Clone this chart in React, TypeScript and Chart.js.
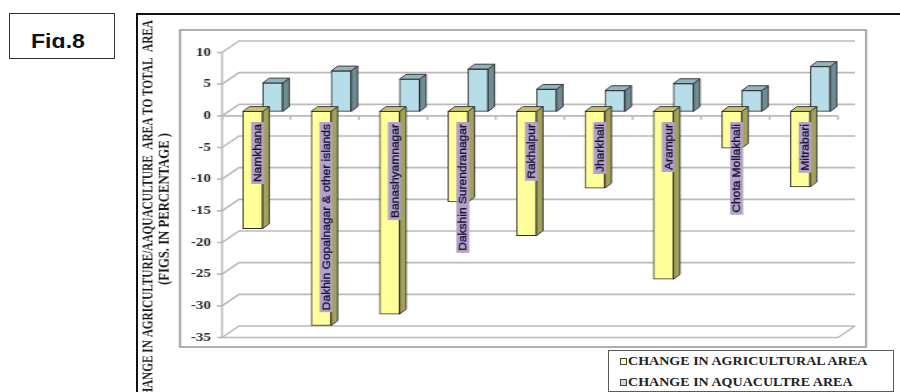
import React, { useEffect, useRef } from "react";
import { Chart, registerables } from "chart.js";

Chart.register(...registerables);

// ---------- data ----------
const categories = [
  "Namkhana",
  "Dakhin Gopalnagar & other islands",
  "Banashyamnagar",
  "Dakshin Surendranagar",
  "Rakhalpur",
  "Jharkhali",
  "Arampur",
  "Chota Mollakhali",
  "Mitrabari",
];
const agriculturalChange = [-18.5, -33.8, -32.0, -14.3, -19.6, -12.1, -26.5, -5.8, -11.9];
const aquacultureChange = [4.5, 6.4, 5.1, 6.7, 3.5, 3.3, 4.4, 3.3, 7.1];
const yTickValues = [10, 5, 0, -5, -10, -15, -20, -25, -30, -35];
const seriesLabels = ["CHANGE IN AGRICULTURAL AREA", "CHANGE IN AQUACULTRE AREA"];
const yTitleLines = [
  "CHANGE IN AGRICULTURE/AAQUACULTURE  AREA TO TOTAL  AREA",
  "(FIGS. IN PERCENTAGE )",
];
const figLabel = "Fig.8";

// ---------- styling / geometry ----------
const S = 1.25; // horizontal stretch of the canvas (css)
const CW = 720;
const CH = 392;
const cx = (real: number) => real / S;

const FRONT = ["#ffff99", "#b7dee8"];
const SIDE = ["#a4a15a", "#6f8b95"];
const TOP = ["#c6c272", "#92b4be"];
const EDGE = "#2a2a2a";

const WALL_DX = cx(17);
const WALL_DY = -11.5;
const BAR_SHIFT_X = cx(6.5);
const BAR_SHIFT_Y = -4.4;
const BAR_DX = cx(6.5);
const BAR_DY = -4.8;

const excel3d = {
  id: "excel3d",
  beforeDatasetsDraw(chart: any) {
    const { ctx } = chart;
    const xs = chart.scales.x;
    const ys = chart.scales.y;
    const xl = xs.left;
    const xr = xs.right;
    ctx.save();
    // plot frame
    ctx.strokeStyle = "#9c9c9c";
    ctx.lineWidth = 1.6;
    ctx.strokeRect(cx(180), 30, cx(866) - cx(180), 317);
    // back wall gridlines with diagonals
    ctx.strokeStyle = "#bababa";
    ctx.lineWidth = 1.6;
    ys.ticks.forEach((t: any) => {
      const py = ys.getPixelForValue(t.value);
      ctx.beginPath();
      ctx.moveTo(xl - cx(5), py);
      ctx.lineTo(xl, py);
      ctx.lineTo(xl + WALL_DX, py + WALL_DY);
      ctx.lineTo(xr + WALL_DX, py + WALL_DY);
      ctx.stroke();
    });
    const yTop = ys.getPixelForValue(ys.max);
    const yBot = ys.getPixelForValue(ys.min);
    // front vertical axis
    ctx.beginPath();
    ctx.moveTo(xl, yTop);
    ctx.lineTo(xl, yBot);
    ctx.stroke();
    // floor edges
    ctx.beginPath();
    ctx.moveTo(xl, yBot);
    ctx.lineTo(xr, yBot);
    ctx.lineTo(xr + WALL_DX, yBot + WALL_DY);
    ctx.stroke();
    // category axis at zero
    const y0 = ys.getPixelForValue(0);
    ctx.beginPath();
    ctx.moveTo(xl, y0);
    ctx.lineTo(xr, y0);
    const n = categories.length;
    for (let k = 0; k <= n; k++) {
      const bx = xl + (k * (xr - xl)) / n;
      ctx.moveTo(bx, y0);
      ctx.lineTo(bx, y0 + 4);
    }
    ctx.stroke();
    ctx.restore();
  },
  beforeDatasetDraw(chart: any) {
    chart.ctx.save();
    chart.ctx.translate(BAR_SHIFT_X, BAR_SHIFT_Y);
  },
  afterDatasetDraw(chart: any, args: any) {
    const { ctx } = chart;
    const di = args.index;
    ctx.lineWidth = 0.9;
    ctx.strokeStyle = EDGE;
    args.meta.data.forEach((el: any) => {
      const p = el.getProps(["x", "y", "base", "width"], true);
      const L = p.x - p.width / 2;
      const R = p.x + p.width / 2;
      const top = Math.min(p.y, p.base);
      const bot = Math.max(p.y, p.base);
      // side face
      ctx.beginPath();
      ctx.moveTo(R, top);
      ctx.lineTo(R + BAR_DX, top + BAR_DY);
      ctx.lineTo(R + BAR_DX, bot + BAR_DY);
      ctx.lineTo(R, bot);
      ctx.closePath();
      ctx.fillStyle = SIDE[di];
      ctx.fill();
      ctx.stroke();
      // top face
      ctx.beginPath();
      ctx.moveTo(L, top);
      ctx.lineTo(L + BAR_DX, top + BAR_DY);
      ctx.lineTo(R + BAR_DX, top + BAR_DY);
      ctx.lineTo(R, top);
      ctx.closePath();
      ctx.fillStyle = TOP[di];
      ctx.fill();
      ctx.stroke();
    });
    if (di === 0) {
      // category labels on the agricultural bars
      ctx.font = "12px 'Liberation Sans', Arial, sans-serif";
      args.meta.data.forEach((el: any, i: number) => {
        const p = el.getProps(["x", "base"], true);
        const text = categories[i];
        const pad = 2;
        const len = ctx.measureText(text).width + pad * 2;
        const thick = 13;
        ctx.save();
        ctx.translate(p.x + cx(4.8), p.base + 10.6);
        ctx.rotate(-Math.PI / 2);
        ctx.scale(1, 0.8);
        ctx.fillStyle = "#b3a2c8";
        ctx.fillRect(-len, -thick / 2, len, thick);
        ctx.fillStyle = "#15132e";
        ctx.strokeStyle = "#15132e";
        ctx.lineWidth = 0.35;
        ctx.textAlign = "right";
        ctx.textBaseline = "middle";
        ctx.fillText(text, -pad, 0.5);
        ctx.strokeText(text, -pad, 0.5);
        ctx.restore();
      });
    }
    ctx.restore();
  },
  afterDraw(chart: any) {
    const { ctx } = chart;
    ctx.save();
    ctx.fillStyle = "#1a1a1a";
    ctx.font = "bold 13px 'Liberation Serif', 'Times New Roman', serif";
    ctx.textBaseline = "middle";
    // line 1, anchored at top end
    ctx.save();
    ctx.translate(cx(148), 20);
    ctx.rotate(-Math.PI / 2);
    ctx.textAlign = "right";
    ctx.fillText(yTitleLines[0], 0, 0, 385);
    ctx.restore();
    // line 2, centered
    ctx.save();
    ctx.translate(cx(165), 209);
    ctx.rotate(-Math.PI / 2);
    ctx.textAlign = "center";
    ctx.fillText(yTitleLines[1], 0, 0, 152);
    ctx.restore();
    ctx.restore();
  },
};

export default function App() {
  const ref = useRef<HTMLCanvasElement>(null);

  useEffect(() => {
    const canvas = ref.current;
    if (!canvas) return;
    const chart = new Chart(canvas, {
      type: "bar",
      data: {
        labels: categories,
        datasets: [
          {
            label: seriesLabels[0],
            data: agriculturalChange,
            backgroundColor: FRONT[0],
            borderColor: EDGE,
            borderWidth: 1,
            borderSkipped: false,
            barThickness: 16,
            clip: false,
          } as any,
          {
            label: seriesLabels[1],
            data: aquacultureChange,
            backgroundColor: FRONT[1],
            borderColor: EDGE,
            borderWidth: 1,
            borderSkipped: false,
            barThickness: 16,
            clip: false,
          } as any,
        ],
      },
      options: {
        responsive: false,
        animation: false,
        devicePixelRatio: 1,
        layout: { padding: { left: 137.6, right: CW - cx(838), top: 52.5, bottom: CH - 337.5 } },
        plugins: {
          legend: { display: false },
          tooltip: { enabled: false },
        },
        scales: {
          x: { display: false, offset: true, grid: { display: false } },
          y: {
            min: -35,
            max: 10,
            afterBuildTicks: (s: any) => {
              s.ticks = yTickValues.map((v) => ({ value: v }));
            },
            afterFit: (s: any) => {
              s.width = 40;
            },
            grid: { display: false, drawTicks: false },
            border: { display: false },
            ticks: {
              padding: 8.8,
              color: "#2a2a2a",
              font: { family: "'Liberation Serif', 'Times New Roman', serif", size: 12, weight: "bold" },
            },
          },
        },
      } as any,
      plugins: [excel3d],
    });
    return () => chart.destroy();
  }, []);

  return (
    <div
      style={{
        position: "absolute",
        left: 0,
        top: 0,
        width: 900,
        height: 392,
        overflow: "hidden",
        background: "#fff",
      }}
    >
      {/* outer black frame */}
      <div
        style={{
          position: "absolute",
          left: 136,
          top: 13,
          width: 1000,
          height: 1000,
          borderTop: "2px solid #111",
          borderLeft: "2px solid #111",
        }}
      />
      {/* Fig.8 box */}
      <div
        style={{
          position: "absolute",
          left: 9,
          top: 13,
          width: 104,
          height: 44,
          border: "1.5px solid #333",
        }}
      >
        <div style={{ position: "absolute", left: 0, top: 0, width: "100%", height: 33.5, overflow: "hidden" }}>
          <div
            style={{
              position: "absolute",
              left: 20.5,
              top: 15.7,
              font: "bold 21px 'Liberation Sans', Arial, sans-serif",
              lineHeight: "21px",
              color: "#111",
              whiteSpace: "nowrap",
              transform: "scaleX(1.1)",
              transformOrigin: "left center",
            }}
          >
            {figLabel}
          </div>
        </div>
      </div>
      <canvas
        ref={ref}
        width={CW}
        height={CH}
        style={{ position: "absolute", left: 0, top: 0, width: 900, height: 392 }}
      />
      {/* legend */}
      <div
        style={{
          position: "absolute",
          left: 608,
          top: 350,
          width: 284,
          height: 40,
          border: "1px solid #5a5a5a",
          background: "#fff",
        }}
      >
        {seriesLabels.map((t, i) => (
          <React.Fragment key={t}>
            <div
              style={{
                position: "absolute",
                left: 11,
                top: (i === 0 ? 10 : 31) - 3.5,
                width: 5,
                height: 5,
                border: "1px solid #444",
                background: FRONT[i],
              }}
            />
            <div
              style={{
                position: "absolute",
                left: 19,
                top: (i === 0 ? 10 : 31) - 7,
                height: 14,
                lineHeight: "14px",
                font: "bold 12px 'Liberation Serif', 'Times New Roman', serif",
                color: "#222",
                whiteSpace: "nowrap",
                transform: "scaleX(1.17)",
                transformOrigin: "left center",
              }}
            >
              {t}
            </div>
          </React.Fragment>
        ))}
      </div>
    </div>
  );
}
